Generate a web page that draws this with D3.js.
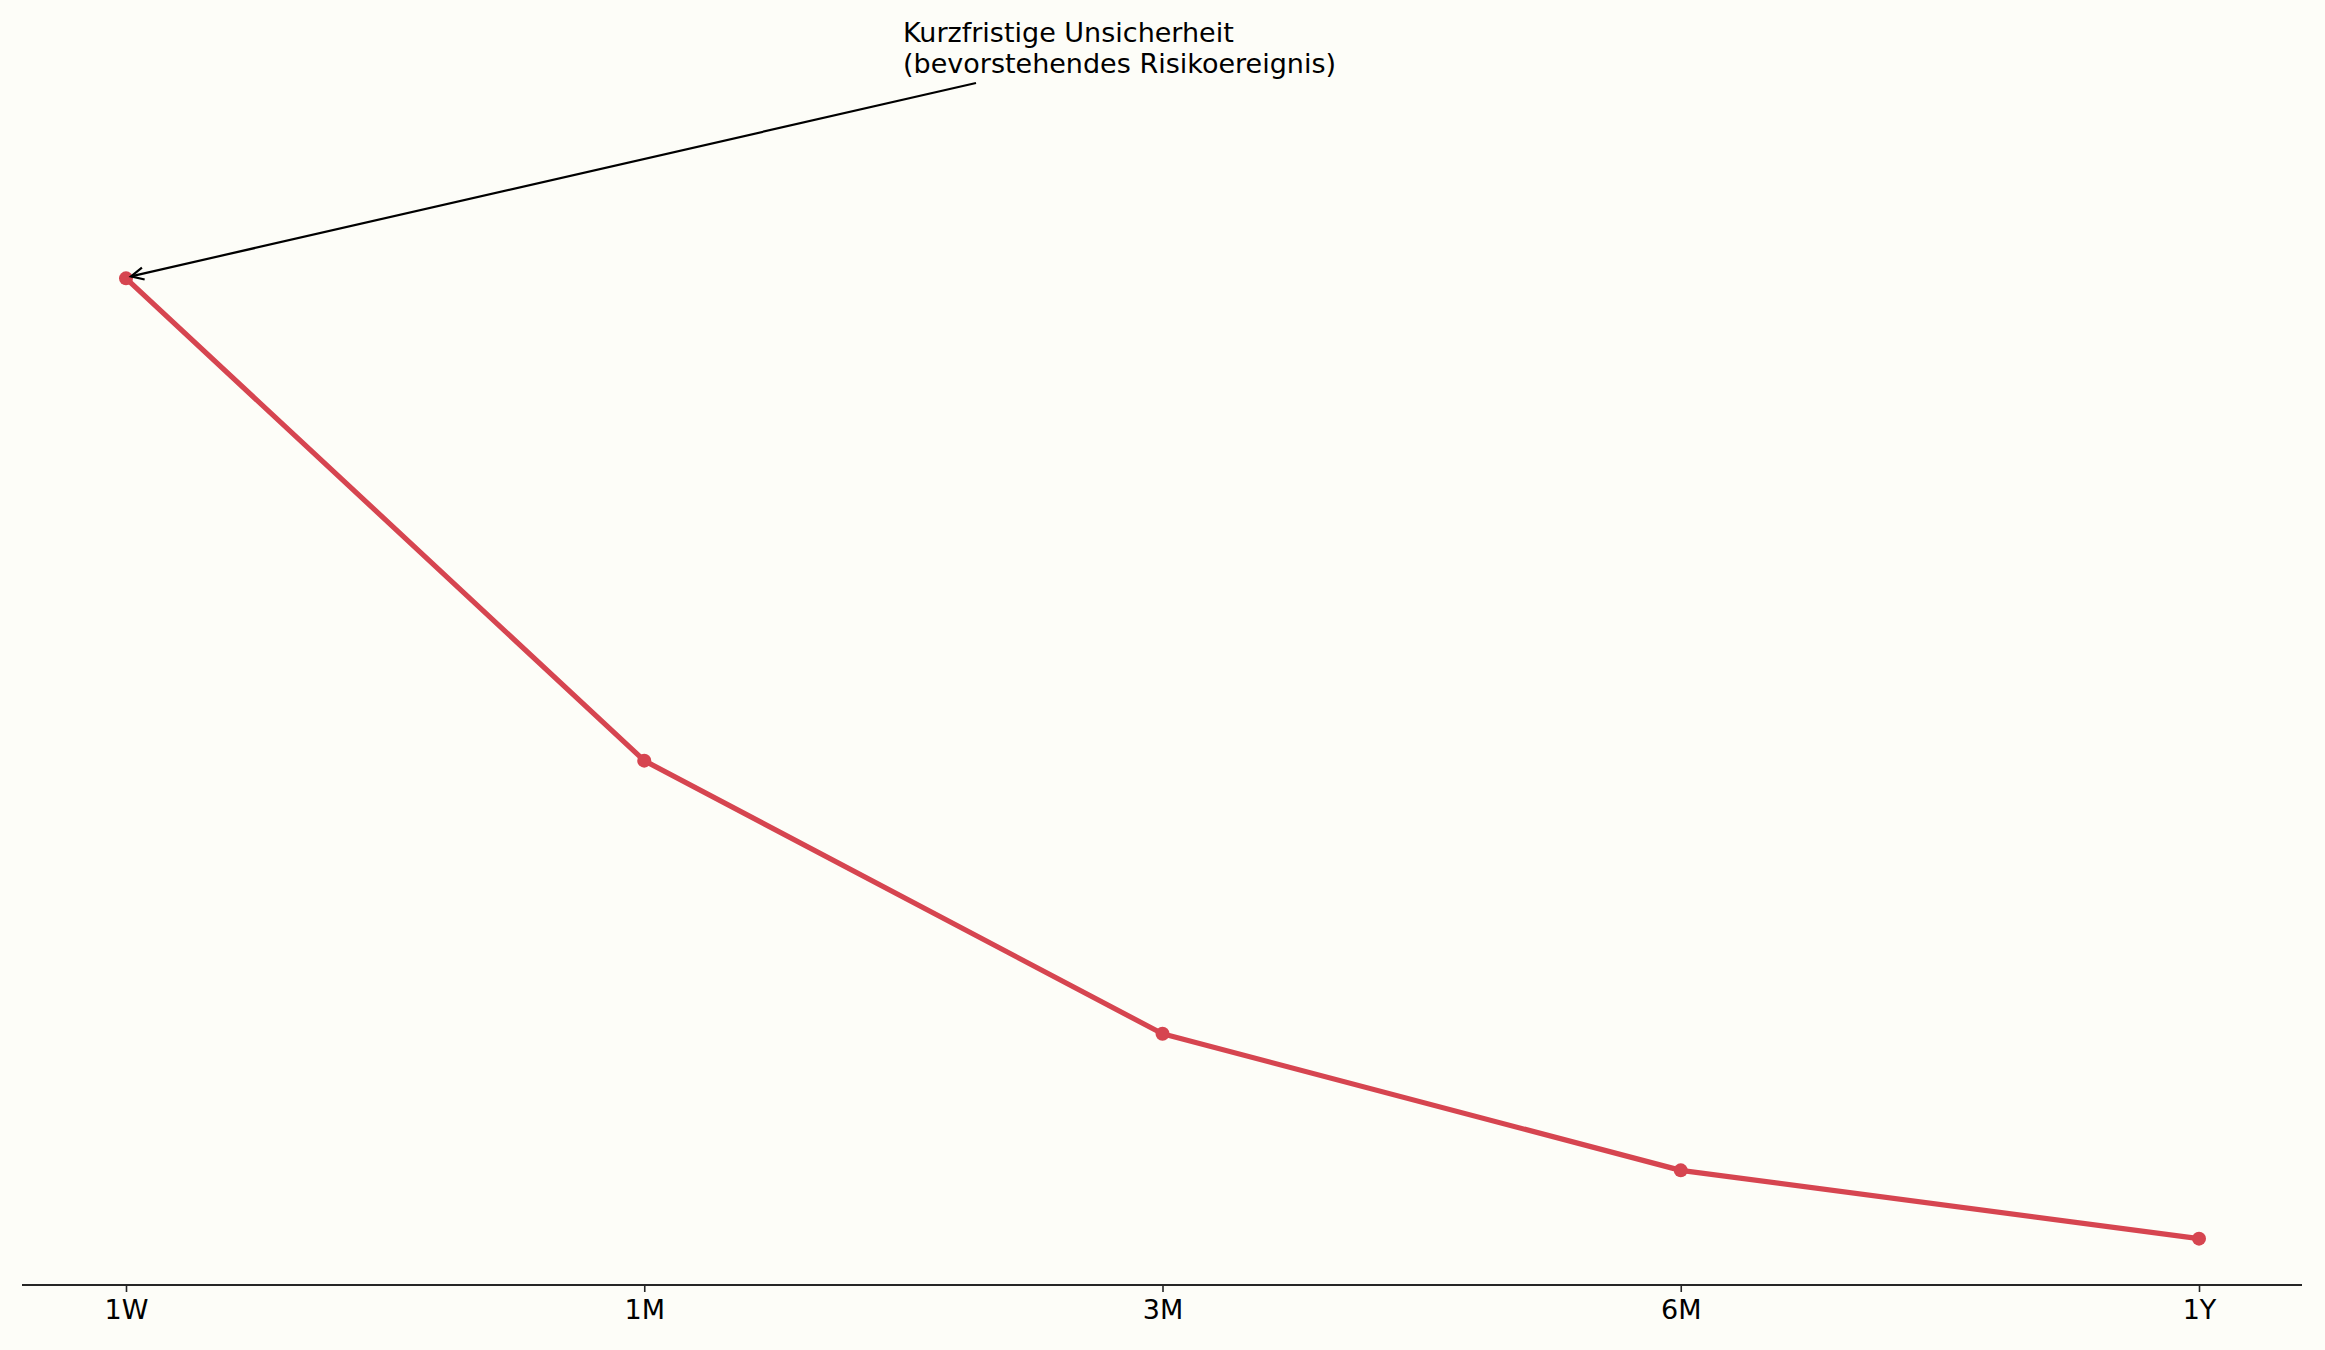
<!DOCTYPE html>
<html>
<head>
  <meta charset="utf-8">
  <title>Term structure</title>
  <script src="https://d3js.org/d3.v7.min.js"></script>
  <style>
    body { margin: 0; background: #fdfdf8; font-family: "DejaVu Sans", sans-serif; }
    svg { display: block; }
  </style>
</head>
<body>
  <svg width="2325" height="1350"></svg>
  <script>
    // tenors and implied level (y axis is hidden in the original)
    const tenors = ["1W", "1M", "3M", "6M", "1Y"];
    const values = [32.0, 20.7, 14.3, 11.1, 9.5];
    const noteLines = ["Kurzfristige Unsicherheit", "(bevorstehendes Risikoereignis)"];

    const svg = d3.select("svg");
    const red = "#d64550";

    const x = d3.scalePoint().domain(tenors).range([126, 2199]);
    const y = d3.scaleLinear().domain([8.25, 33.25]).range([1292, 225]);

    svg.append("rect").attr("width", 2325).attr("height", 1350).attr("fill", "#fdfdf8");

    // bottom axis only
    const axis = svg.append("g")
      .attr("transform", "translate(0,1285)")
      .call(d3.axisBottom(x).tickSize(7).tickPadding(8));
    axis.select(".domain").remove();
    axis.append("line")
      .attr("x1", 22).attr("x2", 2302)
      .attr("stroke", "#262626").attr("stroke-width", 2);
    axis.selectAll(".tick line").attr("stroke", "#262626").attr("stroke-width", 1.6);
    axis.selectAll(".tick text")
      .attr("fill", "#000")
      .style("font-family", "DejaVu Sans")
      .style("font-size", "27px");

    const data = tenors.map((t, i) => ({ t, v: values[i] }));

    svg.append("path")
      .datum(data)
      .attr("fill", "none")
      .attr("stroke", red)
      .attr("stroke-width", 5.2)
      .attr("stroke-linejoin", "round")
      .attr("d", d3.line().x(d => x(d.t)).y(d => y(d.v)));

    svg.append("g").selectAll("circle")
      .data(data)
      .enter().append("circle")
      .attr("cx", d => x(d.t))
      .attr("cy", d => y(d.v))
      .attr("r", 7)
      .attr("fill", red);

    // annotation with open arrow pointing at the 1W point
    const tipX = x(tenors[0]) + 5, tipY = y(values[0]) - 2;
    const startX = 976, startY = 83;
    const ang = Math.atan2(startY - tipY, startX - tipX);
    const hl = 14, spread = 0.45;
    svg.append("line")
      .attr("x1", startX).attr("y1", startY)
      .attr("x2", tipX).attr("y2", tipY)
      .attr("stroke", "#000").attr("stroke-width", 2.2);
    svg.append("path")
      .attr("d", `M${tipX + hl * Math.cos(ang + spread)},${tipY + hl * Math.sin(ang + spread)}
                  L${tipX},${tipY}
                  L${tipX + hl * Math.cos(ang - spread)},${tipY + hl * Math.sin(ang - spread)}`)
      .attr("fill", "none").attr("stroke", "#000").attr("stroke-width", 2.2);

    svg.append("text")
      .attr("x", 903).attr("y", 42)
      .style("font-family", "DejaVu Sans")
      .style("font-size", "27px")
      .attr("fill", "#000")
      .selectAll("tspan")
      .data(noteLines)
      .enter().append("tspan")
      .attr("x", 903)
      .attr("dy", (d, i) => i === 0 ? 0 : 31)
      .text(d => d);
  </script>
</body>
</html>
